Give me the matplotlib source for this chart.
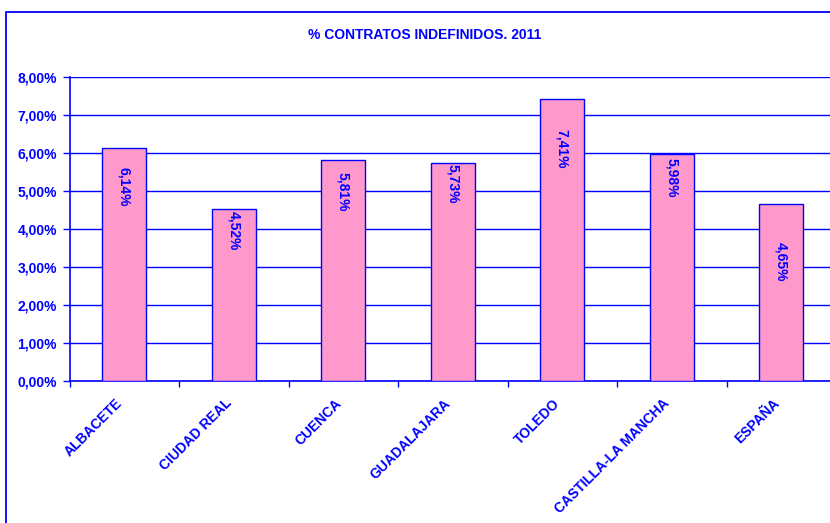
import matplotlib.pyplot as plt
from matplotlib.patches import Rectangle
from matplotlib.ticker import FixedLocator, MultipleLocator, FuncFormatter
from matplotlib.transforms import ScaledTranslation

provincias = ['ALBACETE', 'CIUDAD REAL', 'CUENCA', 'GUADALAJARA', 'TOLEDO',
              'CASTILLA-LA MANCHA', 'ESPAÑA']
porcentajes = [6.14, 4.52, 5.81, 5.73, 7.41, 5.98, 4.65]

# how far (px) each value label sits below the top of its bar, as in the original
label_drop = [19, 2, 12, 1, 30, 4, 38]

AZUL = '#0000FF'
ROSA = '#FF99CC'

plt.rcParams['font.family'] = ['Liberation Sans', 'DejaVu Sans']
plt.rcParams['font.weight'] = 'bold'


def fmt_pct(v, pos=None):
    return ('%.2f%%' % v).replace('.', ',')


def main():
    fig = plt.figure(figsize=(8.3, 5.23), dpi=100)
    fig.patch.set_facecolor('white')

    # chart area border (runs off the right and bottom edge)
    fig.patches.append(Rectangle((6 / 830, -0.1), 1.2, 1.1 - 12 / 523,
                                 transform=fig.transFigure, fill=False,
                                 edgecolor=AZUL, lw=1.3))

    ax = fig.add_axes([69.5 / 830, 142 / 523, 766.5 / 830, 304 / 523])
    x = list(range(len(provincias)))
    ax.bar(x, porcentajes, width=0.4, color=ROSA, edgecolor=AZUL,
           linewidth=1.0, zorder=3)

    ax.set_xlim(-0.5, len(provincias) - 0.5)
    ax.set_ylim(0, 8)
    ax.yaxis.set_major_locator(MultipleLocator(1))
    ax.yaxis.set_major_formatter(FuncFormatter(fmt_pct))
    ax.grid(axis='y', color=AZUL, lw=1.0, zorder=0)
    ax.set_axisbelow(True)

    ax.set_xticks(x)
    ax.set_xticklabels(provincias, rotation=45, ha='right',
                       rotation_mode='anchor', fontsize=10,
                       fontweight='bold', color=AZUL)
    ax.tick_params(axis='x', which='major', length=0, pad=11)
    shift = ScaledTranslation(-9 / 100, 0, fig.dpi_scale_trans)
    for lab in ax.get_xticklabels():
        lab.set_transform(lab.get_transform() + shift)
    ax.xaxis.set_minor_locator(FixedLocator([i + 0.5 for i in range(-1, len(provincias))]))
    ax.tick_params(axis='x', which='minor', length=4, direction='out',
                   color=AZUL, width=1.0)
    ax.tick_params(axis='y', length=5, direction='out', color=AZUL,
                   width=1.0, labelsize=10, labelcolor=AZUL, pad=4)
    for lab in ax.get_yticklabels():
        lab.set_fontweight('bold')

    for s in ['top', 'right']:
        ax.spines[s].set_visible(False)
    for s in ['left', 'bottom']:
        ax.spines[s].set_color(AZUL)
        ax.spines[s].set_linewidth(1.2)

    for xi, v, d in zip(x, porcentajes, label_drop):
        ax.annotate(fmt_pct(v), (xi, v), xytext=(0, -d * 0.72),
                    textcoords='offset points', rotation=-90,
                    ha='center', va='top', fontsize=10,
                    fontweight='bold', color=AZUL, zorder=4)

    fig.text(425 / 830, 1 - 35 / 523, '% CONTRATOS INDEFINIDOS. 2011',
             ha='center', va='center', fontsize=10, fontweight='bold',
             color=AZUL)

    fig.savefig('out.png', dpi=100)


if __name__ == '__main__':
    main()
